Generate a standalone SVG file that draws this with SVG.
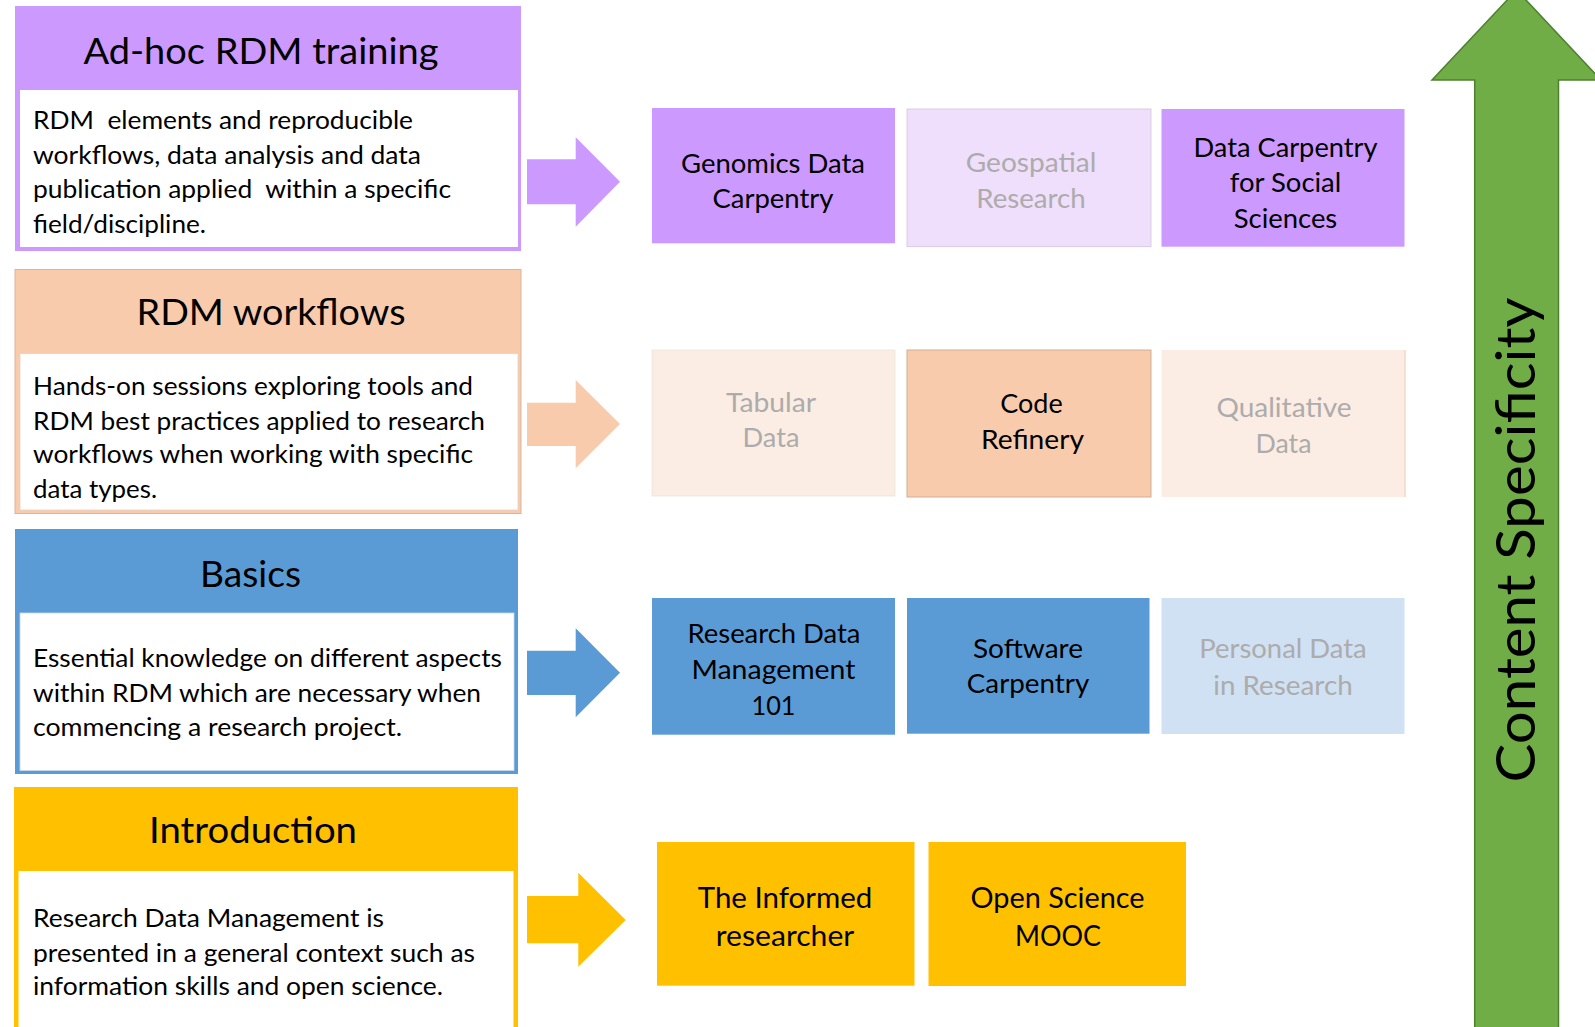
<svg xmlns="http://www.w3.org/2000/svg" width="1595" height="1027" viewBox="0 0 1595 1027">
<style>
text{font-family:Lato,"Open Sans","Liberation Sans",sans-serif;fill:#000}
.hd{font-size:37.5px;text-anchor:middle}
.bd{font-size:25px}
.bx{font-size:26.5px;text-anchor:middle}
.yb{font-size:28.5px;text-anchor:middle}
.g{fill:#ADABAB}
.pur{fill:#CC99FF}
.lpur{fill:#EFDFFD}
.pch{fill:#F8CBAD}
.lpch{fill:#FBEDE3}
.blu{fill:#5B9BD5}
.lblu{fill:#CFE1F2}
.yel{fill:#FFC000}
</style>
<rect width="1595" height="1027" fill="#fff"/>

<g id="adhoc">
<rect class="pur" x="15" y="6" width="506" height="245"/>
<rect x="20" y="90" width="498" height="157" fill="#fff"/>
<text class="hd" x="261" y="64" textLength="355" lengthAdjust="spacingAndGlyphs">Ad-hoc RDM training</text>
<text class="bd" x="33" y="129.3" textLength="380" lengthAdjust="spacingAndGlyphs" xml:space="preserve">RDM  elements and reproducible</text>
<text class="bd" x="33" y="164" textLength="388" lengthAdjust="spacingAndGlyphs">workflows, data analysis and data</text>
<text class="bd" x="33" y="198.3" textLength="418" lengthAdjust="spacingAndGlyphs" xml:space="preserve">publication applied  within a specific</text>
<text class="bd" x="33" y="233.3" textLength="173" lengthAdjust="spacingAndGlyphs">field/discipline.</text>
</g>

<g id="workflows">
<rect class="pch" x="15" y="269.5" width="506" height="244" stroke="#DDB49A" stroke-width="1"/>
<rect x="20" y="353.5" width="498" height="156.5" fill="#fff" stroke="#E4D0C4" stroke-width="0.8"/>
<text class="hd" x="271" y="325" textLength="269" lengthAdjust="spacingAndGlyphs">RDM workflows</text>
<text class="bd" x="33" y="395" textLength="440" lengthAdjust="spacingAndGlyphs">Hands-on sessions exploring tools and</text>
<text class="bd" x="33" y="430" textLength="452" lengthAdjust="spacingAndGlyphs">RDM best practices applied to research</text>
<text class="bd" x="33" y="463.3" textLength="440" lengthAdjust="spacingAndGlyphs">workflows when working with specific</text>
<text class="bd" x="33" y="498.3" textLength="124" lengthAdjust="spacingAndGlyphs">data types.</text>
</g>

<g id="basics">
<rect class="blu" x="15" y="529" width="503" height="245"/>
<rect x="20" y="613" width="494" height="157.5" fill="#fff" stroke="#C9D9EA" stroke-width="0.8"/>
<text class="hd" x="250.5" y="587.3" textLength="101" lengthAdjust="spacingAndGlyphs">Basics</text>
<text class="bd" x="33" y="666.7" textLength="469" lengthAdjust="spacingAndGlyphs">Essential knowledge on different aspects</text>
<text class="bd" x="33" y="701.7" textLength="448" lengthAdjust="spacingAndGlyphs">within RDM which are necessary when</text>
<text class="bd" x="33" y="735.7" textLength="369" lengthAdjust="spacingAndGlyphs">commencing a research project.</text>
</g>

<g id="introduction">
<rect class="yel" x="14" y="787" width="504" height="250"/>
<rect x="18.5" y="871" width="495" height="170" fill="#fff"/>
<text class="hd" x="253" y="842.7" textLength="208" lengthAdjust="spacingAndGlyphs">Introduction</text>
<text class="bd" x="33" y="926.7" textLength="351" lengthAdjust="spacingAndGlyphs">Research Data Management is</text>
<text class="bd" x="33" y="961.7" textLength="442" lengthAdjust="spacingAndGlyphs">presented in a general context such as</text>
<text class="bd" x="33" y="995" textLength="410" lengthAdjust="spacingAndGlyphs">information skills and open science.</text>
</g>

<g id="connectors">
<polygon class="pur" points="527,159.3 575.7,159.3 575.7,137.3 620,181.7 575.7,226.7 575.7,204.3 527,204.3"/>
<polygon class="pch" points="527,402.7 575.7,402.7 575.7,380 620,424 575.7,468.3 575.7,446 527,446"/>
<polygon class="blu" points="527,650.7 575.7,650.7 575.7,628.3 620,672.7 575.7,717.3 575.7,695 527,695"/>
<polygon class="yel" points="527,896 578.3,896 578.3,872.7 625.7,920 578.3,966.7 578.3,943.3 527,943.3"/>
</g>

<g id="genomics">
<rect class="pur" x="652" y="108" width="243" height="135.3"/>
<text class="bx" x="773" y="172.7" textLength="184" lengthAdjust="spacingAndGlyphs">Genomics Data</text>
<text class="bx" x="773" y="208" textLength="121" lengthAdjust="spacingAndGlyphs">Carpentry</text>
</g>
<g id="geospatial">
<rect class="lpur" x="907" y="109" width="244" height="137.7" stroke="#D0C6D8" stroke-width="0.8"/>
<text class="bx g" x="1031" y="171.7" textLength="130.5" lengthAdjust="spacingAndGlyphs">Geospatial</text>
<text class="bx g" x="1031" y="208" textLength="109.5" lengthAdjust="spacingAndGlyphs">Research</text>
</g>
<g id="socialsciences">
<rect class="pur" x="1161.5" y="109" width="243" height="137.7"/>
<text class="bx" x="1285.5" y="156.7" textLength="184" lengthAdjust="spacingAndGlyphs">Data Carpentry</text>
<text class="bx" x="1285.5" y="191.7" textLength="111.5" lengthAdjust="spacingAndGlyphs">for Social</text>
<text class="bx" x="1285.5" y="227.5" textLength="103.5" lengthAdjust="spacingAndGlyphs">Sciences</text>
</g>

<g id="tabular">
<rect class="lpch" x="652" y="350" width="243" height="146" stroke="#EBE3DD" stroke-width="0.8"/>
<text class="bx g" x="771" y="411.7" textLength="90" lengthAdjust="spacingAndGlyphs">Tabular</text>
<text class="bx g" x="771" y="447" textLength="57" lengthAdjust="spacingAndGlyphs">Data</text>
</g>
<g id="coderefinery">
<rect class="pch" x="907" y="350" width="244" height="147" stroke="#D2AE96" stroke-width="1"/>
<text class="bx" x="1031.5" y="412.7" textLength="62.5" lengthAdjust="spacingAndGlyphs">Code</text>
<text class="bx" x="1032.5" y="449" textLength="103" lengthAdjust="spacingAndGlyphs">Refinery</text>
</g>
<g id="qualitative">
<rect class="lpch" x="1161.5" y="350" width="243.5" height="147"/>
<line x1="1405" y1="350" x2="1405" y2="497" stroke="#F2C6AA" stroke-width="1"/>
<text class="bx g" x="1284" y="417" textLength="135" lengthAdjust="spacingAndGlyphs">Qualitative</text>
<text class="bx g" x="1283.5" y="452.7" textLength="56" lengthAdjust="spacingAndGlyphs">Data</text>
</g>

<g id="rdm101">
<rect class="blu" x="652" y="598" width="243" height="136.7"/>
<text class="bx" x="774" y="642.7" textLength="173" lengthAdjust="spacingAndGlyphs">Research Data</text>
<text class="bx" x="773.5" y="679" textLength="164" lengthAdjust="spacingAndGlyphs">Management</text>
<text class="bx" x="773.5" y="715" textLength="44" lengthAdjust="spacingAndGlyphs">101</text>
</g>
<g id="softwarecarpentry">
<rect class="blu" x="907" y="598" width="242.5" height="135.7"/>
<text class="bx" x="1028" y="657.7" textLength="110" lengthAdjust="spacingAndGlyphs">Software</text>
<text class="bx" x="1028" y="693" textLength="122.5" lengthAdjust="spacingAndGlyphs">Carpentry</text>
</g>
<g id="personaldata">
<rect class="lblu" x="1161.5" y="598" width="243" height="136"/>
<text class="bx g" x="1283" y="658" textLength="167.5" lengthAdjust="spacingAndGlyphs">Personal Data</text>
<text class="bx g" x="1283" y="695" textLength="139.5" lengthAdjust="spacingAndGlyphs">in Research</text>
</g>

<g id="informedresearcher">
<rect class="yel" x="657" y="842" width="257.5" height="143.7"/>
<text class="yb" x="785" y="908" textLength="174.5" lengthAdjust="spacingAndGlyphs">The Informed</text>
<text class="yb" x="785" y="946" textLength="138.5" lengthAdjust="spacingAndGlyphs">researcher</text>
</g>
<g id="opensciencemooc">
<rect class="yel" x="928.5" y="842" width="257.5" height="144"/>
<text class="yb" x="1057.5" y="908" textLength="174" lengthAdjust="spacingAndGlyphs">Open Science</text>
<text class="yb" x="1058" y="946" textLength="86" lengthAdjust="spacingAndGlyphs">MOOC</text>
</g>

<g id="contentspecificity">
<polygon points="1474.7,1040 1474.7,80 1432,80 1516.6,-10 1601,80 1558.5,80 1558.5,1040" fill="#70AD47" stroke="#4F7F30" stroke-width="1.5"/>
<text x="0" y="0" transform="translate(1535,540) rotate(-90)" font-size="54" text-anchor="middle" textLength="485" lengthAdjust="spacingAndGlyphs">Content Specificity</text>
</g>
</svg>
